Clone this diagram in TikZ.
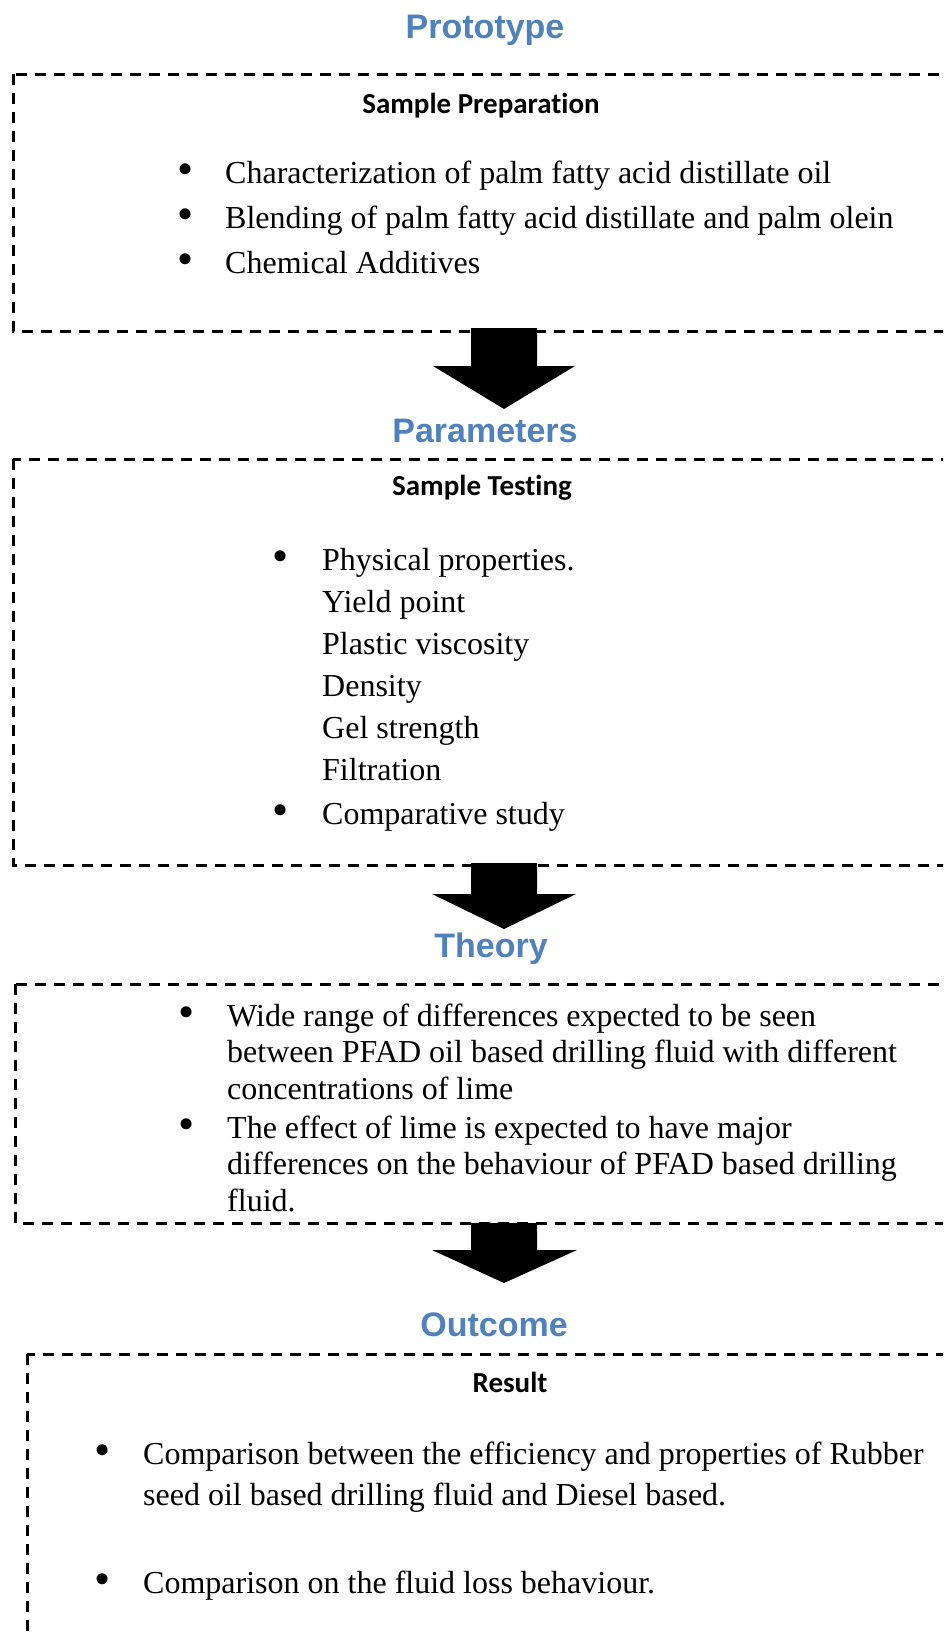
\documentclass[tikz,border=0pt]{standalone}
\usepackage{fontspec}
\setmainfont{Liberation Serif}[Ligatures=NoCommon]
\newfontfamily\titlefont{Liberation Sans}
\newfontfamily\headfont{Carlito}[Ligatures=NoCommon]
\usetikzlibrary{calc}
\definecolor{titleblue}{HTML}{4F81BD}

\begin{document}
\begin{tikzpicture}[
    x=1pt, y=-1pt,
    framebox/.style={line width=3pt, dash pattern=on 11pt off 8pt},
    stagetitle/.style={anchor=base, inner sep=0pt, text=titleblue, font=\titlefont\bfseries\fontsize{34}{40}\selectfont},
    subhead/.style={anchor=base, inner sep=0pt, font=\headfont\bfseries\fontsize{29}{35}\selectfont},
    itemtext/.style={anchor=base west, inner sep=0pt, font=\fontsize{32}{38}\selectfont},
    bulletdot/.style={anchor=center, inner sep=0pt, yshift=9pt, font=\fontsize{46}{50}\selectfont},
    blockarrow/.style={fill=black}
]

    % Page: pixel grid, y grows downwards
    \useasboundingbox (0,0) rectangle (943,1636);
    \clip (0,0) rectangle (943,1636);

    % 1. Prototype
    \node[stagetitle] (prototype) at (485,38) {Prototype};
    \draw[framebox] (13,74) rectangle (960,331);
    \node[subhead] (prep) at (481,113) {Sample Preparation};
    \foreach \y/\txt [count=\i] in {183/Characterization of palm fatty acid distillate oil,
                                    228/Blending of palm fatty acid distillate and palm olein,
                                    273/Chemical Additives} {
        \node[bulletdot] (prepdot\i) at (186,\y) {•};
        \node[itemtext] (prepitem\i) at (225,\y) {\txt};
    }

    % 2. Parameters
    \node[stagetitle] (parameters) at (485,442) {Parameters};
    \draw[framebox] (13,459) rectangle (960,865);
    \node[subhead] (testing) at (482,495) {Sample Testing};
    \node[bulletdot] (testdot1) at (281,570) {•};
    \node[bulletdot] (testdot2) at (281,824) {•};
    \foreach \y/\txt [count=\i] in {570/Physical properties., 612/Yield point,
                                    654/Plastic viscosity, 696/Density,
                                    738/Gel strength, 780/Filtration,
                                    824/Comparative study} {
        \node[itemtext] (testitem\i) at (322,\y) {\txt};
    }

    % 3. Theory
    \node[stagetitle] (theory) at (491,957) {Theory};
    \draw[framebox] (15,984) rectangle (960,1223);
    \node[bulletdot] (theorydot1) at (187,1026) {•};
    \node[bulletdot] (theorydot2) at (187,1138) {•};
    \foreach \y/\txt [count=\i] in {1026/Wide range of differences expected to be seen,
                                    1062/between PFAD oil based drilling fluid with different,
                                    1099/concentrations of lime,
                                    1138/The effect of lime is expected to have major,
                                    1174/differences on the behaviour of PFAD based drilling,
                                    1211/fluid.} {
        \node[itemtext] (theoryitem\i) at (227,\y) {\txt};
    }

    % 4. Outcome
    \node[stagetitle] (outcome) at (494,1336) {Outcome};
    \draw[framebox] (27,1354) rectangle (960,1660);
    \node[subhead] (result) at (510,1392) {Result};
    \node[bulletdot] (resultdot1) at (103,1464) {•};
    \node[bulletdot] (resultdot2) at (103,1593) {•};
    \node[itemtext] (resultitem1) at (143,1464) {Comparison between the efficiency and properties of Rubber};
    \node[itemtext] (resultitem2) at (143,1505) {seed oil based drilling fluid and Diesel based.};
    \node[itemtext] (resultitem3) at (143,1593) {Comparison on the fluid loss behaviour.};

    % Block arrows between the stages
    \fill[blockarrow] (471,328) -- (537,328) -- (537,366) -- (575,366) -- (504,409) -- (433,366) -- (471,366) -- cycle;
    \fill[blockarrow] (471,863) -- (537,863) -- (537,894) -- (576,894) -- (504,929) -- (432,894) -- (471,894) -- cycle;
    \fill[blockarrow] (471,1223) -- (537,1223) -- (537,1250) -- (577,1250) -- (504,1283) -- (432,1250) -- (471,1250) -- cycle;

\end{tikzpicture}
\end{document}
